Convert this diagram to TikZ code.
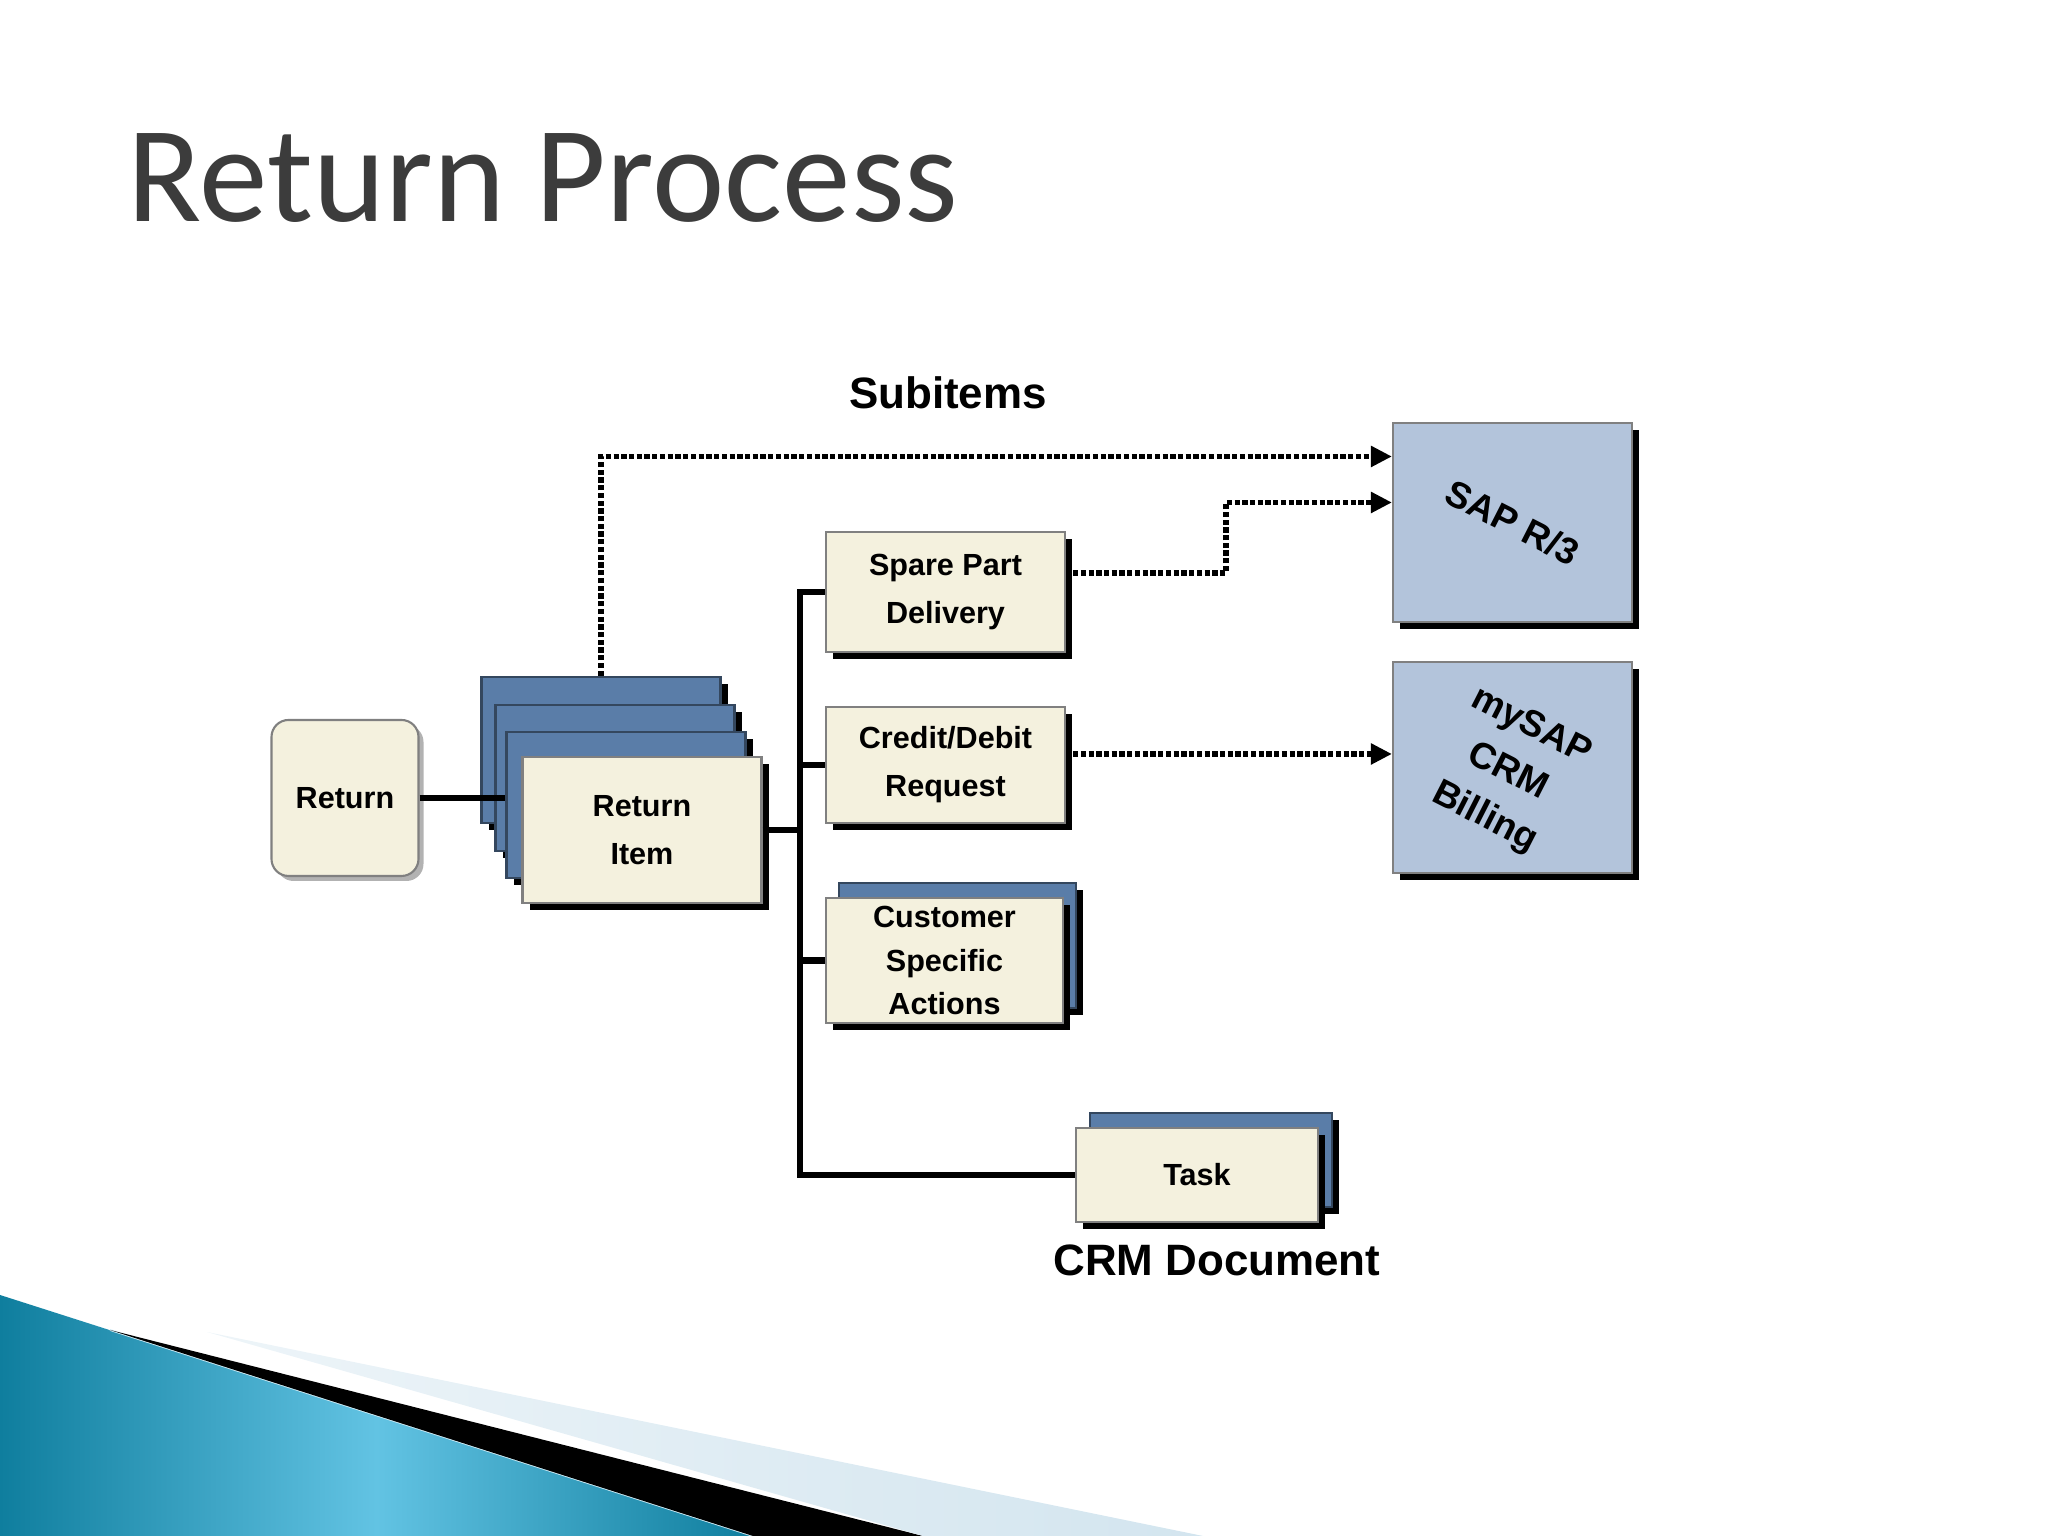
\documentclass[tikz,border=0pt]{standalone}
\usepackage{fontspec}
\setmainfont{Liberation Sans}
\newfontfamily\titlefont{Carlito}
\usetikzlibrary{arrows.meta,shadows}
\definecolor{titlegray}{HTML}{3C3C3C}
\definecolor{cream}{HTML}{F4F1DE}
\definecolor{boxline}{HTML}{808080}
\definecolor{cardblue}{HTML}{5A7DA8}
\definecolor{carddark}{HTML}{34475E}
\definecolor{sysblue}{HTML}{B3C4DB}
\definecolor{tealdark}{HTML}{0F7E9E}
\definecolor{teallight}{HTML}{62C3E3}
\definecolor{bandblue}{HTML}{D3E5EF}

\begin{document}
\begin{tikzpicture}[
    tile/.style={rectangle,line width=.6pt,align=center,inner sep=0pt,
                 minimum width=2.39cm,font=\fontsize{8.7}{13.7}\selectfont\bfseries},
    box/.style={tile,draw=boxline,fill=cream,
                drop shadow={shadow xshift=.07cm,shadow yshift=-.07cm,opacity=1,fill=black}},
    rbox/.style={tile,draw=boxline,fill=cream,rounded corners=.17cm,
                 drop shadow={shadow xshift=.05cm,shadow yshift=-.05cm,opacity=1,fill=black!30}},
    card/.style={box,fill=cardblue,draw=carddark},
    sys/.style={box,fill=sysblue},
    tilt/.style={rotate=-27,align=center,font=\fontsize{10.5}{14.5}\selectfont\bfseries},
    link/.style={line width=1.9pt},
    flow/.style={line width=1.5pt,dash pattern=on 1.5pt off .7pt,
                 -{Triangle[length=.21cm,width=.2cm]}}]
  \useasboundingbox (0,0) rectangle (20.48,15.36);

  % slide decoration, bottom left
  \shade[left color=tealdark,right color=tealdark,middle color=teallight]
    (0,2.41) -- (7.53,0) -- (0,0) -- cycle;
  \draw[teallight!30,line width=.5pt] (1.10,2.06) -- (7.53,0);
  \fill[black] (1.10,2.06) -- (9.23,0) -- (7.53,0) -- cycle;
  \shade[left color=bandblue!40,right color=bandblue] (2.07,2.04) -- (12.03,0) -- (9.23,0) -- cycle;

  \node[anchor=base west,inner sep=0pt,text=titlegray,
        font=\titlefont\fontsize{39}{41}\selectfont] (title) at (1.27,13.14) {Return Process};

  \node[font=\fontsize{12.5}{15}\selectfont\bfseries] (subitems) at (9.48,11.43) {Subitems};
  \node[font=\fontsize{12.5}{15}\selectfont\bfseries] (crmdoc)   at (12.17,2.76) {CRM Document};

  % document
  \node[rbox,minimum width=1.47cm,minimum height=1.56cm] (ret) at (3.45,7.38) {Return};
  \node[card,minimum height=1.46cm] (card1) at (6.01,7.86) {};
  \node[card,minimum height=1.46cm] (card2) at (6.15,7.58) {};
  \node[card,minimum height=1.46cm] (card3) at (6.26,7.31) {};
  \node[box,minimum height=1.46cm]  (item)  at (6.42,7.06) {Return\\Item};

  % subitems
  \node[box,minimum height=1.20cm] (spare)  at (9.455,9.44) {Spare Part\\Delivery};
  \node[box,minimum height=1.16cm] (credit) at (9.455,7.71) {Credit/Debit\\Request};
  \node[card,minimum width=2.37cm,minimum height=1.25cm] (cust-back) at (9.575,5.905) {};
  \node[box,minimum width=2.37cm,minimum height=1.25cm,
        font=\fontsize{8.7}{12.5}\selectfont\bfseries] (cust) at (9.445,5.755) {Customer\\Specific\\Actions};
  \node[card,minimum width=2.42cm,minimum height=.94cm] (task-back) at (12.11,3.76) {};
  \node[box,minimum width=2.42cm,minimum height=.94cm]  (task)      at (11.97,3.61) {Task};

  % systems
  \node[sys,minimum height=1.99cm] (sap) at (15.125,10.135) {};
  \node[tilt] (sap-txt) at (sap) {SAP R/3};
  \node[sys,minimum height=2.11cm] (crm) at (15.125,7.685) {};
  \node[tilt] (crm-txt) at ([shift={(-.05,-.05)}]crm) {mySAP\\CRM\\Billing};

  % solid links
  \coordinate (bus) at (8.0,6.99);
  \draw[link] (ret.east) -- (ret -| card3.west);
  \draw[link] (item.east) -- (item -| bus);
  \draw[link] (spare.west) -- (spare -| bus) -- (task -| bus) -- (task.west);
  \foreach \n in {credit,cust}
    \draw[link] (\n.west) -- (\n -| bus);

  % dotted flows
  \coordinate (sp-out) at ([xshift=.07cm,yshift=.19cm]spare.east);
  \coordinate (cr-out) at ([xshift=.07cm,yshift=.11cm]credit.east);
  \draw[flow] (card1.north) |- ([yshift=.66cm]sap.west);
  \draw[flow] (sp-out) -| ([xshift=-1.66cm,yshift=.20cm]sap.west) -- ([yshift=.20cm]sap.west);
  \draw[flow] (cr-out) -- (cr-out -| crm.west);
\end{tikzpicture}
\end{document}
